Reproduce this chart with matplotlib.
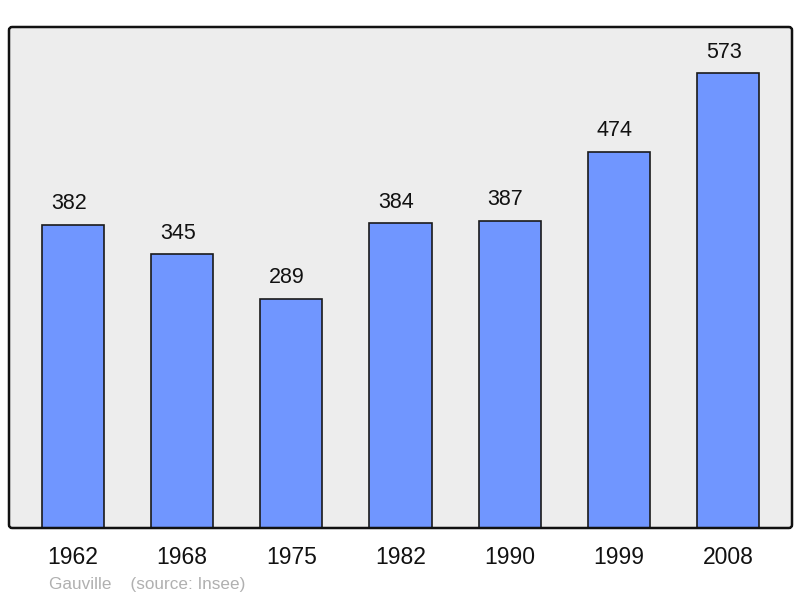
import matplotlib
matplotlib.use("Agg")
import matplotlib.pyplot as plt
from matplotlib.patches import FancyBboxPatch

years = ["1962", "1968", "1975", "1982", "1990", "1999", "2008"]
population = [382, 345, 289, 384, 387, 474, 573]

plt.rcParams['font.family'] = ['Liberation Sans', 'DejaVu Sans']

fig = plt.figure(figsize=(8, 5.98), dpi=100)
ax = fig.add_axes([9/800, 1 - 528/598, (792 - 9)/800, (528 - 27)/598])
ax.set_facecolor('none')
x = list(range(len(years)))
ax.bar(x, population, width=0.57, color='#7096ff', edgecolor='#1a1a1a', linewidth=1.2, zorder=2)
for xi, v in zip(x, population):
    ax.annotate(str(v), (xi, v), xytext=(-3, 7.5), textcoords='offset points',
                ha='center', va='bottom', fontsize=15.5, color='#111111')
ax.set_xlim(-0.585, len(years) - 1 + 0.585)
ax.set_ylim(0, 631)
ax.set_yticks([])
ax.set_xticks(x)
ax.set_xticklabels(years, fontsize=16.5, color='#111111')
ax.tick_params(axis='x', length=0, pad=13)
for s in ax.spines.values():
    s.set_visible(False)
box = FancyBboxPatch((0, 0), 1, 1, boxstyle='round,pad=0,rounding_size=0.004',
                     transform=ax.transAxes, facecolor='#ededed', edgecolor='none',
                     zorder=0, mutation_aspect=783/501, clip_on=False)
ax.add_patch(box)
border = FancyBboxPatch((0, 0), 1, 1, boxstyle='round,pad=0,rounding_size=0.004',
                        transform=ax.transAxes, facecolor='none', edgecolor='#111111',
                        linewidth=1.8, zorder=3, mutation_aspect=783/501, clip_on=False)
ax.add_patch(border)
fig.text(49/800, 1 - 584/598, "Gauville    (source: Insee)", fontsize=12.3, color='#b0b0b0',
         ha='left', va='center')
fig.savefig('out.png', dpi=100)
